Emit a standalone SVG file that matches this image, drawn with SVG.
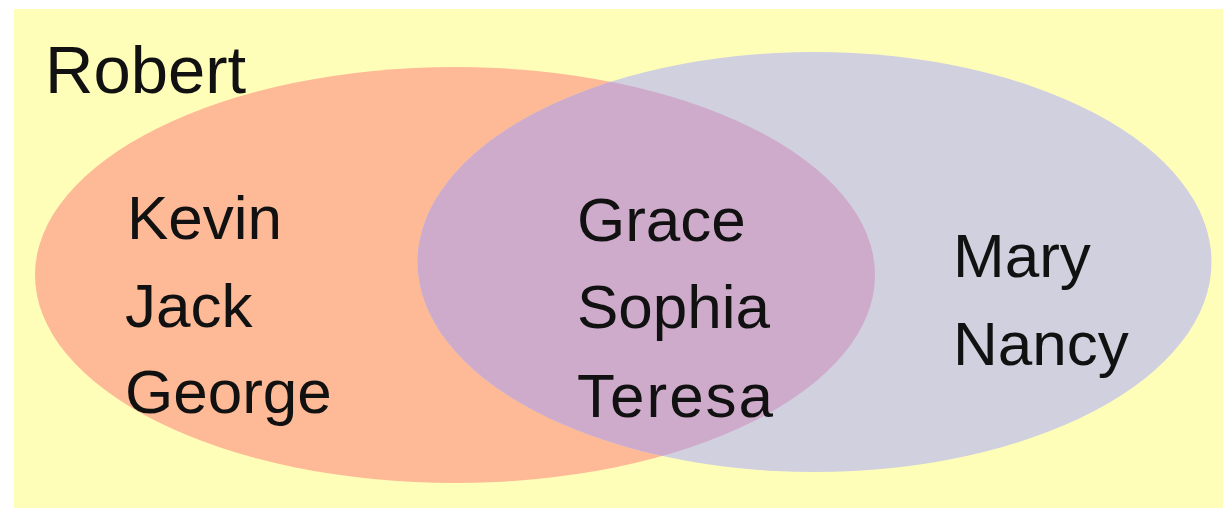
<svg xmlns="http://www.w3.org/2000/svg" width="1228" height="508" viewBox="0 0 1228 508">
  <style>
    .lbl { font-family: "Liberation Sans", Arial, sans-serif; font-size: 62px; fill: #111111; }
    .big { font-size: 67px; }
  </style>
  <defs>
    <clipPath id="clipLeft">
      <ellipse cx="455" cy="275" rx="420" ry="208"/>
    </clipPath>
  </defs>
  <rect x="0" y="0" width="1228" height="508" fill="#ffffff"/>
  <g id="universe">
    <rect x="14" y="9" width="1209" height="499" fill="#fffeb9"/>
    <text class="lbl big" x="45" y="93">Robert</text>
  </g>
  <g id="setA">
    <ellipse cx="455" cy="275" rx="420" ry="208" fill="#feba97"/>
  </g>
  <g id="setB">
    <ellipse cx="814.5" cy="262" rx="397" ry="210" fill="#d0d0df"/>
  </g>
  <g id="intersection">
    <ellipse cx="814.5" cy="262" rx="397" ry="210" fill="#ceabcb" clip-path="url(#clipLeft)"/>
  </g>
  <g id="labelsA">
    <text class="lbl" x="127" y="239">Kevin</text>
    <text class="lbl" x="125" y="327">Jack</text>
    <text class="lbl" x="125" y="413">George</text>
  </g>
  <g id="labelsAB">
    <text class="lbl" x="577" y="241">Grace</text>
    <text class="lbl" x="577" y="328">Sophia</text>
    <text class="lbl" x="577" y="417" letter-spacing="2">Teresa</text>
  </g>
  <g id="labelsB">
    <text class="lbl" x="953" y="277">Mary</text>
    <text class="lbl" x="953" y="365">Nancy</text>
  </g>
  <g id="connectors"/>
</svg>
